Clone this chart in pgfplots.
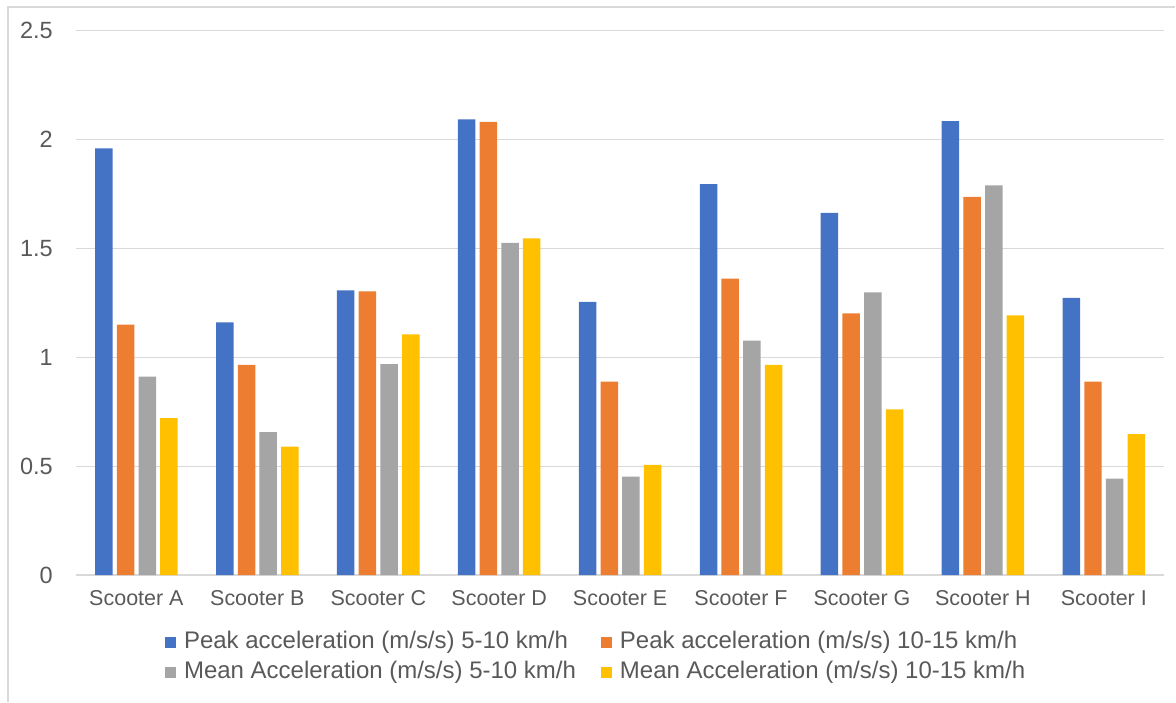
\documentclass[border=0pt]{standalone}
\usepackage{fontspec}
\setmainfont{Liberation Sans}
\usepackage{pgfplots}
\pgfplotsset{compat=1.18}
\definecolor{cblue}{HTML}{4472C4}
\definecolor{corange}{HTML}{ED7D31}
\definecolor{cgray}{HTML}{A5A5A5}
\definecolor{cyellow}{HTML}{FFC000}
\definecolor{cgrid}{HTML}{D9D9D9}
\definecolor{ctext}{HTML}{595959}
\begin{document}
\begin{tikzpicture}
\begin{axis}[
  at={(0pt,0pt)}, anchor=south west,
  scale only axis, width=1089pt, height=544.6pt,
  xmin=-0.5, xmax=8.5, ymin=0, ymax=2.5,
  ybar=4.2pt, bar width=17.5pt,
  xtick={0,1,2,3,4,5,6,7,8},
  xticklabels={Scooter A,Scooter B,Scooter C,Scooter D,Scooter E,Scooter F,Scooter G,Scooter H,Scooter I},
  ytick={0,0.5,1,1.5,2,2.5},
  yticklabels={0,0.5,1,1.5,2,2.5},
  axis line style={draw=none},
  major tick length=0pt,
  ymajorgrids, grid style={draw=cgrid, line width=1.2pt},
  tick label style={text=ctext},
  yticklabel style={font=\fontsize{23.5}{28}\selectfont, inner sep=0pt, xshift=-23pt},
  xticklabel style={font=\fontsize{21.5}{26}\selectfont, inner sep=0pt, anchor=north, yshift=-15.7pt},
  legend columns=2,
  legend cell align=left,
  legend image code/.code={\fill[#1] (0pt,-5.5pt) rectangle (11pt,5.5pt);},
  legend style={at={(0.0817,-0.1032)}, anchor=north west, draw=none, fill=none,
    font=\fontsize{24}{28}\selectfont, text=ctext, inner sep=0pt,
    nodes={inner xsep=4pt, inner ysep=0pt, text height=17pt, text depth=5pt},
    /tikz/every odd column/.append style={column sep=4pt},
    /tikz/every even column/.append style={column sep=21pt},
    row sep=8pt},
]
\addplot[fill=cblue, draw=none] coordinates {(0,1.96) (1,1.16) (2,1.307) (3,2.093) (4,1.255) (5,1.795) (6,1.663) (7,2.085) (8,1.273)};
\addplot[fill=corange, draw=none] coordinates {(0,1.15) (1,0.965) (2,1.303) (3,2.081) (4,0.888) (5,1.361) (6,1.202) (7,1.737) (8,0.888)};
\addplot[fill=cgray, draw=none] coordinates {(0,0.911) (1,0.656) (2,0.969) (3,1.526) (4,0.452) (5,1.076) (6,1.298) (7,1.789) (8,0.443)};
\addplot[fill=cyellow, draw=none] coordinates {(0,0.72) (1,0.59) (2,1.105) (3,1.546) (4,0.506) (5,0.965) (6,0.761) (7,1.193) (8,0.647)};
\legend{Peak acceleration (m/s/s) 5-10 km/h, Peak acceleration (m/s/s) 10-15 km/h, Mean Acceleration (m/s/s) 5-10 km/h, Mean Acceleration (m/s/s) 10-15 km/h}
\end{axis}
\pgfresetboundingbox
\draw[cgrid, line width=1.2pt] (-68pt,-126.7pt) -- (-68pt,568.3pt) -- (1100pt,568.3pt);
\path[use as bounding box] (-76pt,-126.7pt) rectangle (1100pt,575.3pt);
\end{tikzpicture}
\end{document}
